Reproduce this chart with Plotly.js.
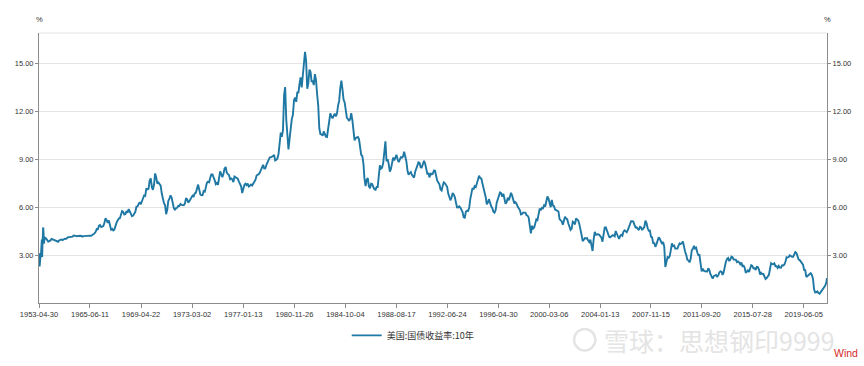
<!DOCTYPE html>
<html><head><meta charset="utf-8">
<script src="https://cdn.plot.ly/plotly-3.0.1.min.js"></script>
<style>html,body{margin:0;padding:0;background:#fff;} #chart{width:864px;height:366px;}</style>
</head><body><div id="chart"></div>
<script>
const seriesName = '美国:国债收益率:10年';
const tickDates = ['1953-04-30','1965-06-11','1969-04-22','1973-03-02','1977-01-13','1980-11-26','1984-10-04','1988-08-17','1992-06-24','1996-04-30','2000-03-06','2004-01-13','2007-11-15','2011-09-20','2015-07-28','2019-06-05'];
const yTickVals = [3, 6, 9, 12, 15];
const yTickText = ['3.00', '6.00', '9.00', '12.00', '15.00'];

// monthly readings 1953-04 .. 1961-12
const yields1950s = [2.83,3.05,3.11,2.93,2.95,2.87,2.66,2.68,2.59,
 2.48,2.47,2.37,2.29,2.37,2.38,2.30,2.36,2.38,2.43,2.48,2.51,
 2.61,2.65,2.68,2.75,2.76,2.78,2.90,2.97,2.97,2.88,2.89,2.96,
 2.90,2.84,2.96,3.18,3.07,3.00,3.11,3.33,3.38,3.34,3.49,3.59,
 3.46,3.34,3.41,3.48,3.60,3.80,3.93,3.93,3.92,3.97,3.72,3.21,
 3.09,3.05,2.98,2.88,2.92,2.97,3.20,3.54,3.76,3.80,3.74,3.86,
 4.02,3.96,3.99,4.12,4.31,4.34,4.40,4.43,4.68,4.53,4.53,4.69,
 4.72,4.49,4.25,4.28,4.35,4.15,3.90,3.80,3.80,3.89,3.93,3.84,
 3.84,3.78,3.74,3.78,3.71,3.88,3.92,4.04,3.98,3.92,3.94,4.06];
// mid-month readings 1962-01 .. 1969-12
const yields1960s = [4.08,4.04,3.93,3.84,3.87,3.91,4.01,3.98,3.98,3.93,3.92,3.86,
 3.83,3.92,3.93,3.97,3.93,3.99,4.02,4.00,4.08,4.11,4.12,4.13,
 4.17,4.15,4.22,4.23,4.20,4.17,4.19,4.19,4.20,4.19,4.15,4.18,
 4.19,4.21,4.21,4.20,4.21,4.21,4.20,4.25,4.29,4.35,4.45,4.62,
 4.61,4.83,4.87,4.75,4.78,4.81,5.02,5.30,5.18,5.01,5.16,4.84,
 4.58,4.63,4.54,4.59,4.85,5.02,5.16,5.28,5.30,5.48,5.75,5.70,
 5.53,5.56,5.74,5.64,5.87,5.72,5.50,5.42,5.46,5.58,5.70,6.03,
 6.04,6.19,6.30,6.17,6.32,6.57,6.72,6.69,7.16,7.10,7.14,7.65];
// 1970-01 .. 1979-12
const yields1970s = [7.79,7.24,7.07,7.39,8.10,7.84,7.46,7.53,7.39,7.33,6.84,6.39,
 6.24,6.11,5.55,5.83,6.39,6.52,6.73,6.58,6.14,5.93,5.81,5.93,
 5.95,6.08,6.07,6.19,6.13,6.11,6.11,6.21,6.55,6.48,6.28,6.36,
 6.46,6.64,6.71,6.67,6.85,6.90,7.13,7.40,7.09,6.79,6.73,6.74,
 6.99,6.96,7.21,7.51,7.58,7.54,7.81,8.04,8.04,7.90,7.68,7.43,
 7.50,7.39,7.73,8.23,8.06,7.86,8.06,8.40,8.50,8.15,8.05,8.00,
 7.74,7.79,7.73,7.56,7.90,7.86,7.83,7.77,7.59,7.41,7.29,6.87,
 7.21,7.39,7.46,7.37,7.46,7.28,7.33,7.40,7.34,7.52,7.58,7.69,
 7.96,8.03,8.04,8.15,8.35,8.46,8.64,8.41,8.42,8.64,8.81,9.01,
 9.10,9.10,9.12,9.18,9.25,8.91,8.95,9.03,9.33,10.30,10.65,10.39];
// 1980-01 .. 1989-12
const yields1980s = [10.80,13.00,13.50,11.47,10.18,9.60,10.25,11.10,11.51,11.75,12.68,12.84,
 12.57,13.19,13.12,13.68,14.10,13.47,14.28,14.94,15.70,15.15,13.39,13.72,
 14.59,14.43,13.86,13.87,13.62,14.30,13.95,13.06,12.34,10.91,10.55,10.54,
 10.46,10.72,10.51,10.40,10.38,10.85,11.38,11.85,11.65,11.54,11.69,11.83,
 11.67,11.84,12.32,12.63,13.41,13.90,13.36,12.72,12.52,12.16,11.57,11.50,
 11.38,11.51,11.86,11.43,10.85,10.16,10.31,10.33,10.37,10.24,9.78,9.26,
 9.19,8.70,7.78,7.30,7.71,7.80,7.30,7.17,7.45,7.43,7.25,7.11,
 7.08,7.25,7.25,8.02,8.61,8.40,8.45,8.76,9.42,10.10,8.86,8.99,
 8.67,8.21,8.37,8.72,9.09,8.92,9.06,9.26,8.98,8.80,8.96,9.11,
 9.09,9.17,9.45,9.18,8.86,8.28,8.02,8.11,8.19,8.01,7.87,7.84];
// 1990-01 .. 1999-12
const yields1990s = [8.21,8.47,8.59,8.79,8.76,8.48,8.47,8.75,8.89,8.72,8.39,8.08,
 8.09,7.85,8.11,8.04,8.07,8.28,8.27,7.90,7.65,7.53,7.42,7.09,
 7.03,7.34,7.54,7.48,7.39,7.26,6.84,6.59,6.42,6.59,6.87,6.77,
 6.60,6.26,5.98,5.97,6.04,5.96,5.81,5.68,5.36,5.33,5.72,5.77,
 5.75,5.97,6.48,6.97,7.18,7.10,7.30,7.24,7.46,7.74,7.96,7.81,
 7.78,7.47,7.20,7.06,6.63,6.17,6.28,6.49,6.20,6.04,5.93,5.71,
 5.65,5.81,6.27,6.51,6.74,6.91,6.87,6.64,6.83,6.53,6.20,6.30,
 6.58,6.42,6.69,6.89,6.71,6.49,6.22,6.30,6.21,6.03,5.88,5.81,
 5.54,5.57,5.65,5.64,5.65,5.50,5.46,5.34,4.81,4.35,4.83,4.65,
 4.72,5.00,5.23,5.18,5.54,5.90,5.79,5.94,5.92,6.11,6.03,6.28];
// 2000-01 .. 2009-12
const yields2000s = [6.66,6.52,6.26,5.99,6.44,6.10,6.05,5.83,5.80,5.74,5.72,5.24,
 5.16,5.10,4.89,5.14,5.39,5.28,5.24,4.97,4.73,4.57,4.65,5.09,
 5.04,4.91,5.28,5.21,5.16,4.93,4.65,4.26,3.87,3.94,4.05,4.03,
 4.05,3.90,3.81,3.96,3.57,3.25,3.98,4.45,4.27,4.29,4.30,4.27,
 4.15,4.08,3.83,4.35,4.72,4.73,4.50,4.28,4.13,4.10,4.19,4.23,
 4.22,4.17,4.50,4.34,4.14,4.00,4.18,4.26,4.20,4.46,4.54,4.47,
 4.42,4.57,4.72,4.99,5.11,5.11,5.09,4.88,4.72,4.73,4.60,4.56,
 4.76,4.72,4.56,4.69,4.75,5.15,5.00,4.67,4.52,4.53,4.15,4.10,
 3.74,3.74,3.51,3.68,3.88,4.10,4.01,3.89,3.69,3.81,3.53,2.25,
 2.52,2.87,2.82,2.93,3.29,3.72,3.56,3.59,3.40,3.39,3.40,3.59];
// 2010-01 .. 2019-12
const yields2010s = [3.73,3.69,3.73,3.85,3.42,3.20,3.01,2.70,2.65,2.54,2.76,3.29,
 3.39,3.58,3.41,3.46,3.17,3.00,3.00,2.30,1.98,2.15,2.01,1.98,
 1.97,1.97,2.17,2.05,1.80,1.62,1.53,1.68,1.72,1.75,1.65,1.72,
 1.91,1.98,1.96,1.76,1.93,2.30,2.58,2.74,2.81,2.62,2.72,2.90,
 2.86,2.71,2.72,2.71,2.56,2.60,2.54,2.42,2.53,2.30,2.33,2.21,
 1.88,1.98,2.04,1.94,2.20,2.36,2.32,2.17,2.17,2.07,2.26,2.24,
 2.09,1.78,1.89,1.81,1.81,1.64,1.50,1.56,1.63,1.76,2.14,2.49,
 2.43,2.42,2.48,2.30,2.30,2.19,2.32,2.21,2.20,2.36,2.35,2.40,
 2.58,2.86,2.84,2.87,2.98,2.91,2.89,2.89,3.00,3.18,3.12,2.83,
 2.71,2.68,2.57,2.53,2.40,2.07,2.06,1.63,1.70,1.71,1.81,1.86];
// 2020-01 .. 2021-03
const yields2020s = [1.76,1.50,0.87,0.66,0.67,0.73,0.62,0.58,0.68,0.79,0.87,0.93,
 1.08,1.26,1.56];
const lastDate = '2021-03-08';

function monthDates(y0, m0, n, day) {
  const out = [];
  for (let k = 0; k < n; k++) {
    const t = (m0 - 1) + k;
    const y = y0 + Math.floor(t / 12), m = (t % 12) + 1;
    out.push(y + '-' + String(m).padStart(2, '0') + '-' + day);
  }
  return out;
}
// observation-count scale (category axis of the source chart: monthly before 1962, daily after)
function obsIndex(s) {
  const [y, m, d] = s.split('-').map(Number);
  if (y < 1962) return (y - 1953) * 12 + (m - 4);
  const days = (Date.UTC(y, m - 1, d) - Date.UTC(1962, 0, 2)) / 864e5;
  return 105 + days * 0.689;
}

const dates = [].concat(
  monthDates(1953, 4, yields1950s.length, '28'),
  monthDates(1962, 1, yields1960s.length, '15'),
  monthDates(1970, 1, yields1970s.length, '15'),
  monthDates(1980, 1, yields1980s.length, '15'),
  monthDates(1990, 1, yields1990s.length, '15'),
  monthDates(2000, 1, yields2000s.length, '15'),
  monthDates(2010, 1, yields2010s.length, '15'),
  monthDates(2020, 1, yields2020s.length - 1, '15'),
  [lastDate]
);
const values = [].concat(yields1950s, yields1960s, yields1970s, yields1980s, yields1990s, yields2000s, yields2010s, yields2020s);
const xs = dates.map(obsIndex);

const lineColor = '#1f78a3';
const axisColor = '#8c8c8c';
const textColor = '#333333';
const baseFont = 'Liberation Sans, Arial, Helvetica, sans-serif';
const cjkFont = 'Noto Sans CJK SC, sans-serif';

const traces = [
  {x: xs, y: values, type: 'scatter', mode: 'lines', name: seriesName,
   line: {color: lineColor, width: 1.9}, hoverinfo: 'skip'},
  {x: xs, y: values, type: 'scatter', mode: 'lines', yaxis: 'y2', showlegend: false,
   opacity: 0, line: {color: lineColor, width: 1}, hoverinfo: 'skip'}
];

const yRange = [0, 16.875];
const layout = {
  width: 864, height: 366,
  margin: {l: 39, r: 37.3, t: 33.3, b: 62.7, pad: 0},
  paper_bgcolor: '#ffffff', plot_bgcolor: '#ffffff',
  font: {family: baseFont, size: 7.5, color: textColor},
  showlegend: true,
  xaxis: {
    type: 'linear', range: [xs[0], xs[xs.length - 1]],
    tickmode: 'array', tickvals: tickDates.map(obsIndex), ticktext: tickDates,
    ticks: 'outside', ticklen: 4, tickcolor: axisColor, tickwidth: 1,
    showline: true, linecolor: axisColor, linewidth: 1,
    showgrid: false, zeroline: false,
    tickfont: {family: baseFont, size: 7.5, color: textColor}
  },
  yaxis: {
    range: yRange, tickmode: 'array', tickvals: yTickVals, ticktext: yTickText,
    ticks: 'outside', ticklen: 3, tickcolor: axisColor,
    showline: true, linecolor: axisColor, linewidth: 1,
    showgrid: true, gridcolor: '#e3e3e3', gridwidth: 1, zeroline: false,
    tickfont: {family: baseFont, size: 7.5, color: textColor}
  },
  yaxis2: {
    overlaying: 'y', side: 'right',
    range: yRange, tickmode: 'array', tickvals: yTickVals, ticktext: yTickText,
    ticks: 'outside', ticklen: 3, tickcolor: axisColor,
    showline: true, linecolor: axisColor, linewidth: 1,
    showgrid: false, zeroline: false,
    tickfont: {family: baseFont, size: 7.5, color: textColor}
  },
  legend: {
    orientation: 'h', x: 0.3905, xanchor: 'left', y: -0.12, yanchor: 'middle',
    font: {family: cjkFont, size: 9, color: textColor}, bgcolor: 'rgba(0,0,0,0)'
  },
  shapes: [
    {type: 'line', xref: 'paper', yref: 'paper', x0: 0, x1: 1, y0: 1, y1: 1,
     line: {color: '#e3e3e3', width: 1}},
    {type: 'circle', xref: 'paper', yref: 'paper', x0: 0.679, x1: 0.706, y0: -0.176, y1: -0.096,
     line: {color: '#e4e4e4', width: 2.5}}
  ],
  annotations: [
    {text: '%', xref: 'paper', yref: 'paper', x: 0, y: 1.049, xanchor: 'center', yanchor: 'middle',
     showarrow: false, font: {family: baseFont, size: 7.5, color: textColor}},
    {text: '%', xref: 'paper', yref: 'paper', x: 1, y: 1.049, xanchor: 'center', yanchor: 'middle',
     showarrow: false, font: {family: baseFont, size: 7.5, color: textColor}},
    {text: '雪球：思想钢印9999', xref: 'paper', yref: 'paper', x: 0.7144, y: -0.136,
     xanchor: 'left', yanchor: 'middle', showarrow: false,
     font: {family: cjkFont, size: 25, color: '#e4e4e4'}},
    {text: 'Wind', xref: 'paper', yref: 'paper', x: 1.024, y: -0.184, xanchor: 'center', yanchor: 'middle',
     showarrow: false, font: {family: baseFont, size: 10.5, color: '#d42a1f'}}
  ]
};

Plotly.newPlot('chart', traces, layout, {displayModeBar: false, staticPlot: true});
</script>
</body></html>
